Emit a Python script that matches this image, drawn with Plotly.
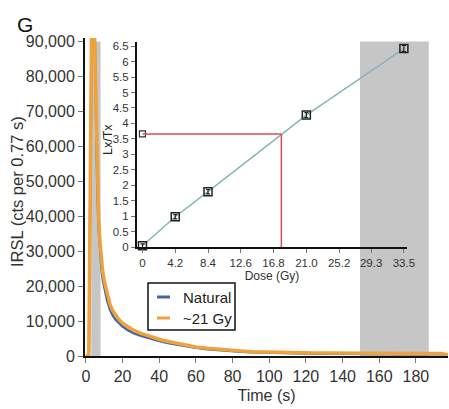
import plotly.graph_objects as go

# IRSL decay curves (time in s, counts per 0.77 s channel)
time_s = [0, 0.8, 1.6, 3.1, 3.9, 4.6, 5.4, 6.2, 6.9, 7.7, 8.5, 9.2, 10.0,
          11.6, 13.1, 14.6, 16.2, 17.7, 20.0, 23.1, 26.2, 30.0, 33.9, 37.7,
          41.6, 46.2, 50.8, 55.4, 60.0, 66.2, 72.3, 78.5, 84.7, 90.8, 97.0,
          103.9, 110.8, 117.7, 124.6, 131.5, 138.5, 145.4, 152.3, 159.2,
          166.2, 173.1, 180.0, 186.9, 193.8, 197.7]
natural = [0, 0, 200, 90000, 105000, 98000, 70000, 49000, 37000,
           29500, 25000, 21800, 19500, 15800, 13300, 11600, 10400, 9500, 8400,
           7300, 6500, 5800, 5200, 4600, 4100, 3600, 3150, 2700, 2350, 1950,
           1650, 1400, 1200, 1050, 950, 850, 750, 700, 650, 650, 600, 600, 580,
           560, 550, 540, 520, 500, 480, 200]
gy21 = [0, 0, 300, 95000, 110000, 95000, 68000, 52000, 40000, 32500,
        27500, 24000, 21500, 17500, 14800, 13000, 11700, 10600, 9400, 8200,
        7300, 6500, 5800, 5100, 4500, 4000, 3500, 3000, 2600, 2200, 1900, 1600,
        1400, 1250, 1150, 1050, 950, 900, 850, 850, 800, 800, 800, 780, 760,
        750, 740, 720, 700, 300]
series_names = ["Natural", "~21 Gy"]

# Integration windows (signal and background), s
signal_window = [2.9, 8.0]
background_window = [149.5, 187.0]

# Dose-response (inset)
dose_gy = [0, 4.2, 8.4, 21.0, 33.5]
lx_tx = [0.04, 0.98, 1.79, 4.27, 6.42]
lx_tx_err = [0.06, 0.07, 0.07, 0.08, 0.10]
natural_lx_tx = 3.66
equivalent_dose = 17.8
dose_ticks = [0, 4.2, 8.4, 12.6, 16.8, 21.0, 25.2, 29.3, 33.5]
dose_ticktext = ["0", "4.2", "8.4", "12.6", "16.8", "21.0", "25.2", "29.3", "33.5"]
lx_ticks = [i * 0.5 for i in range(14)]
lx_ticktext = ["%g" % v for v in lx_ticks]

BLUE = "#44679f"
ORANGE = "#eea23c"
TEAL = "#86b4bb"
RED = "#dc4c58"
GREY = "#c6c6c6"
FONT = "Liberation Sans, Arial, sans-serif"

# plot area in pixels: x 85..448, y 38..356
W, H = 449, 409
L, R, T, B = 85, 1, 38, 53
PW, PH = W - L - R, H - T - B


def px(x):
    return (x - L) / PW


def py(y):
    return (H - B - y) / PH


fig = go.Figure()

fig.add_trace(go.Scatter(x=time_s, y=natural, mode="lines", name=series_names[0],
                         line=dict(color=BLUE, width=2.5), showlegend=False))
fig.add_trace(go.Scatter(x=time_s, y=gy21, mode="lines", name=series_names[1],
                         line=dict(color=ORANGE, width=3.5), showlegend=False))

# Inset: growth curve
fig.add_trace(go.Scatter(x=dose_gy, y=lx_tx, mode="lines", xaxis="x2", yaxis="y2",
                         line=dict(color=TEAL, width=1.5), showlegend=False,
                         hoverinfo="skip"))
fig.add_trace(go.Scatter(x=dose_gy, y=lx_tx, mode="markers", xaxis="x2", yaxis="y2",
                         marker=dict(symbol="square-open", size=8,
                                     color="#222", line=dict(width=1.5)),
                         error_y=dict(type="data", array=lx_tx_err, color="#222",
                                      thickness=1.2, width=2),
                         showlegend=False, cliponaxis=False))
fig.add_trace(go.Scatter(x=[0], y=[natural_lx_tx], mode="markers", xaxis="x2", yaxis="y2",
                         marker=dict(symbol="square-open", size=6, color="#333",
                                     line=dict(width=1.2)),
                         showlegend=False, cliponaxis=False))

shapes = [
    dict(type="rect", xref="x", yref="y", x0=signal_window[0], x1=signal_window[1],
         y0=0, y1=90000, fillcolor=GREY, line=dict(width=0), layer="below"),
    dict(type="rect", xref="x", yref="y", x0=background_window[0], x1=background_window[1],
         y0=0, y1=90000, fillcolor=GREY, line=dict(width=0), layer="below"),
    dict(type="line", xref="x2", yref="y2", x0=0, x1=equivalent_dose,
         y0=natural_lx_tx, y1=natural_lx_tx, line=dict(color=RED, width=1.5)),
    dict(type="line", xref="x2", yref="y2", x0=equivalent_dose, x1=equivalent_dose,
         y0=natural_lx_tx, y1=0, line=dict(color=RED, width=1.5)),
    # legend box
    dict(type="rect", xref="paper", yref="paper", x0=px(148), x1=px(235),
         y0=py(330), y1=py(283), line=dict(color="#111", width=1.5),
         fillcolor="white"),
    dict(type="line", xref="paper", yref="paper", x0=px(157), x1=px(170),
         y0=py(297), y1=py(297), line=dict(color=BLUE, width=3)),
    dict(type="line", xref="paper", yref="paper", x0=px(157), x1=px(170),
         y0=py(318), y1=py(318), line=dict(color=ORANGE, width=3)),
]

annotations = [
    dict(text="G", xref="paper", yref="paper", x=px(25), y=py(25), showarrow=False,
         font=dict(size=21, color="#111", family=FONT), xanchor="center", yanchor="middle"),
    dict(text="IRSL (cts per 0.77 s)", xref="paper", yref="paper", x=px(17), y=py(192),
         showarrow=False, textangle=-90, font=dict(size=16.5, color="#333", family=FONT),
         xanchor="center", yanchor="middle"),
    dict(text="Lx/Tx", xref="paper", yref="paper", x=px(108), y=py(140), showarrow=False,
         textangle=-90, font=dict(size=12.5, color="#222", family=FONT),
         xanchor="center", yanchor="middle"),
    dict(text=series_names[0], xref="paper", yref="paper", x=px(181), y=py(297),
         showarrow=False, font=dict(size=15, color="#222", family=FONT),
         xanchor="left", yanchor="middle"),
    dict(text=series_names[1], xref="paper", yref="paper", x=px(181), y=py(318),
         showarrow=False, font=dict(size=15, color="#222", family=FONT),
         xanchor="left", yanchor="middle"),
]

fig.update_layout(
    width=W, height=H,
    margin=dict(l=L, r=R, t=T, b=B, autoexpand=False),
    paper_bgcolor="white",
    plot_bgcolor="rgba(0,0,0,0)",
    font=dict(family=FONT, color="#333"),
    shapes=shapes,
    annotations=annotations,
    xaxis=dict(range=[-0.5, 197.5], tickvals=list(range(0, 200, 20)),
               showgrid=False, zeroline=False, showline=True, linecolor="#111",
               linewidth=2, ticks="outside", ticklen=5, tickcolor="#777",
               tickfont=dict(size=16, color="#333"), automargin=False,
               title=dict(text="Time (s)", font=dict(size=16, color="#333"), standoff=6)),
    yaxis=dict(range=[0, 91000], tickvals=list(range(0, 100000, 10000)),
               tickformat=",", showgrid=False, zeroline=False, showline=True,
               linecolor="#111", linewidth=2, ticks="outside", ticklen=5,
               tickcolor="#777", tickfont=dict(size=16, color="#333"), automargin=False),
    xaxis2=dict(domain=[px(137), px(407)], anchor="y2", range=[-0.7, 33.9],
                tickvals=dose_ticks, ticktext=dose_ticktext, showgrid=False,
                zeroline=False, showline=True, linecolor="#111", linewidth=2,
                ticks="outside", ticklen=4, tickcolor="#777", automargin=False,
                tickfont=dict(size=11.5, color="#333"),
                title=dict(text="Dose (Gy)", font=dict(size=12, color="#333"), standoff=2)),
    yaxis2=dict(domain=[py(247), py(41.5)], anchor="x2", range=[0, 6.65],
                tickvals=lx_ticks, ticktext=lx_ticktext, showgrid=False,
                zeroline=False, showline=True, linecolor="#111", linewidth=2,
                ticks="outside", ticklen=4, tickcolor="#777", automargin=False,
                tickfont=dict(size=11.5, color="#333")),
)

fig.write_html("out.html")
